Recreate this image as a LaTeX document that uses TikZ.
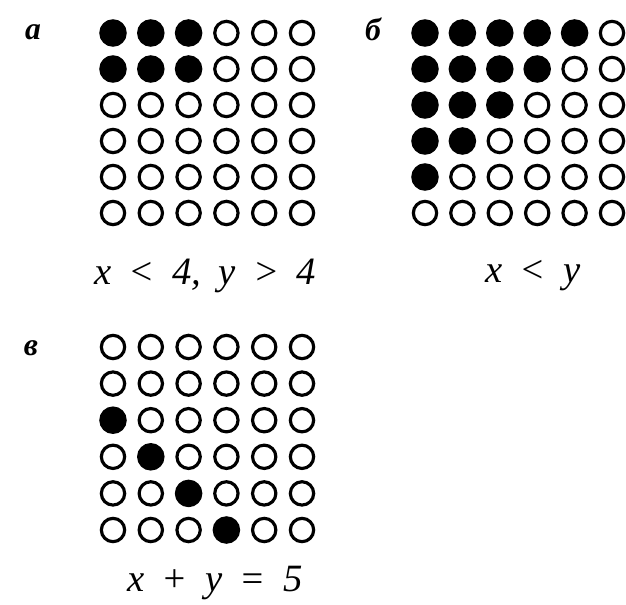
\documentclass[tikz,border=0pt]{standalone}
\usepackage{fontspec}
\usepackage{tikz}
\newfontfamily\cyrfont{Liberation Serif}
\usetikzlibrary{positioning}
\newcommand{\gap}{\hspace{0.45em}}
\tikzset{
  dot/.style={circle, draw=black, line width=2.7pt, minimum size=7mm, inner sep=0pt},
  dotFull/.style={dot, fill=black, minimum size=7.3mm},
  dotOpen/.style={dot, fill=white},
  partLabel/.style={font=\cyrfont\bfseries\itshape\fontsize{27}{30}\selectfont},
  ruleLabel/.style={font=\cyrfont\itshape\fontsize{33}{38}\selectfont}
}

\begin{document}
\begin{tikzpicture}[x=0.3mm,y=-0.3mm]
  \useasboundingbox (0,0) rectangle (626,605);
  % a: x < 4, y > 4
  \node[partLabel] (labA) at (33,32) {а};
  \foreach \r in {1,...,6} {
    \foreach \c in {1,...,6} {
      \pgfmathtruncatemacro{\on}{and(\r<3,\c<4)}
      \ifnum\on=1
        \node[dotFull] (a-\r-\c) at ({113+37.8*(\c-1)},{33+36*(\r-1)}) {};
      \else
        \node[dotOpen] (a-\r-\c) at ({113+37.8*(\c-1)},{33+36*(\r-1)}) {};
      \fi
    }
  }
  \node[ruleLabel] (capA) at (205,276) {x\gap<\gap4,\gap y\gap>\gap4};
  % b: x < y
  \node[partLabel] (labB) at (373,29) {б};
  \foreach \r in {1,...,6} {
    \foreach \c in {1,...,6} {
      \pgfmathtruncatemacro{\on}{\c<7-\r}
      \ifnum\on=1
        \node[dotFull] (b-\r-\c) at ({425+37.4*(\c-1)},{33+36*(\r-1)}) {};
      \else
        \node[dotOpen] (b-\r-\c) at ({425+37.4*(\c-1)},{33+36*(\r-1)}) {};
      \fi
    }
  }
  \node[ruleLabel] (capB) at (533,276) {x\gap<\gap y};
  % v: x + y = 5
  \node[partLabel] (labV) at (31,348) {в};
  \foreach \r in {1,...,6} {
    \foreach \c in {1,...,6} {
      \pgfmathtruncatemacro{\on}{\c==\r-2}
      \ifnum\on=1
        \node[dotFull] (v-\r-\c) at ({113+37.8*(\c-1)},{347+36.6*(\r-1)}) {};
      \else
        \node[dotOpen] (v-\r-\c) at ({113+37.8*(\c-1)},{347+36.6*(\r-1)}) {};
      \fi
    }
  }
  \node[ruleLabel] (capV) at (215,583) {x\gap+\gap y\gap=\gap5};
\end{tikzpicture}
\end{document}
